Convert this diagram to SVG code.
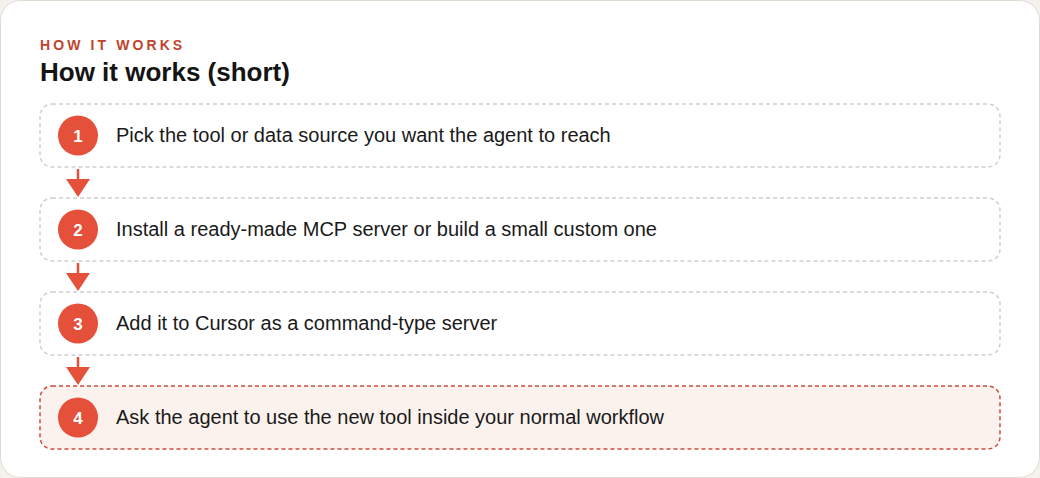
<svg xmlns="http://www.w3.org/2000/svg" width="1040" height="478" viewBox="0 0 1040 478">
<style>
.card{fill:#ffffff;stroke:#dedbd3;stroke-width:1}
.box{fill:#ffffff;stroke:#cfcfcf;stroke-width:1.5;stroke-dasharray:4 3}
.box.hl{fill:#fbf2ee;stroke:#cc4e3a;stroke-dasharray:4 3}
.num{fill:#e5503a}
.numt{font-family:"Liberation Sans",Arial,sans-serif;font-size:17px;font-weight:bold;fill:#ffffff;text-anchor:middle}
.lbl{font-family:"Liberation Sans",Arial,sans-serif;font-size:20px;fill:#1a1a1a}
.eyebrow{font-family:"Liberation Sans",Arial,sans-serif;font-size:14px;font-weight:bold;letter-spacing:3.1px;fill:#c0442e}
.title{font-family:"Liberation Sans",Arial,sans-serif;font-size:26px;font-weight:bold;fill:#141414}
.conn line{stroke:#e5503a;stroke-width:2.5}
.conn polygon{fill:#e5503a}
</style>
<rect x="0" y="0" width="1040" height="478" fill="#f4f2ec"/>
<rect class="card" x="0.5" y="0.5" width="1039" height="477" rx="20"/>
<text class="eyebrow" x="40" y="50">HOW IT WORKS</text>
<text class="title" x="40" y="81">How it works (short)</text>
<g id="connectors" class="conn">
<line x1="78" y1="169" x2="78" y2="181"/>
<polygon points="66,179 90,179 78,197"/>
<line x1="78" y1="263" x2="78" y2="275"/>
<polygon points="66,273 90,273 78,291"/>
<line x1="78" y1="357" x2="78" y2="369"/>
<polygon points="66,367 90,367 78,385"/>
</g>
<g id="step1">
<rect class="box" x="40" y="104" width="960" height="63" rx="12"/>
<circle class="num" cx="78" cy="135.5" r="20"/>
<text class="numt" x="78" y="141.5">1</text>
<text class="lbl" x="116" y="142">Pick the tool or data source you want the agent to reach</text>
</g>
<g id="step2">
<rect class="box" x="40" y="198" width="960" height="63" rx="12"/>
<circle class="num" cx="78" cy="229.5" r="20"/>
<text class="numt" x="78" y="235.5">2</text>
<text class="lbl" x="116" y="236">Install a ready-made MCP server or build a small custom one</text>
</g>
<g id="step3">
<rect class="box" x="40" y="292" width="960" height="63" rx="12"/>
<circle class="num" cx="78" cy="323.5" r="20"/>
<text class="numt" x="78" y="329.5">3</text>
<text class="lbl" x="116" y="330">Add it to Cursor as a command-type server</text>
</g>
<g id="step4">
<rect class="box hl" x="40" y="386" width="960" height="63" rx="12"/>
<circle class="num" cx="78" cy="417.5" r="20"/>
<text class="numt" x="78" y="423.5">4</text>
<text class="lbl" x="116" y="424">Ask the agent to use the new tool inside your normal workflow</text>
</g>
</svg>
